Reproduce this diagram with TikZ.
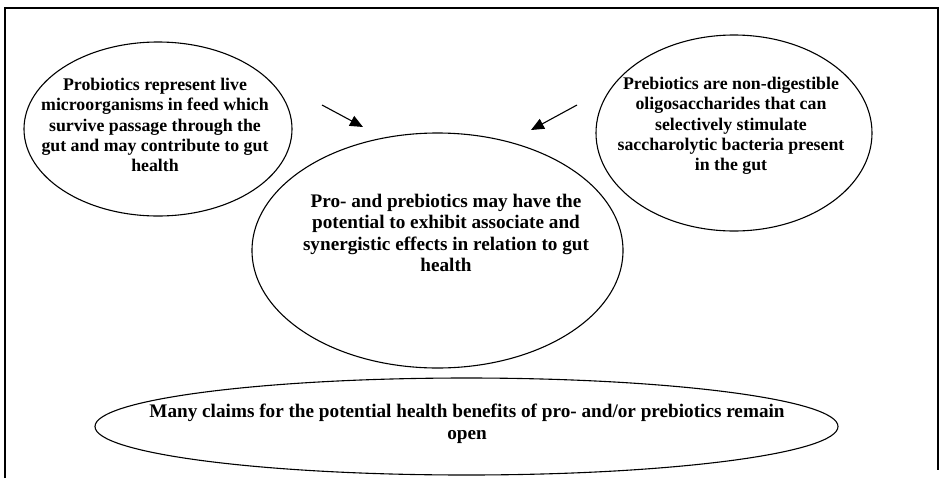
\documentclass[tikz,border=0pt]{standalone}
\usepackage{fontspec}
\setmainfont{Liberation Serif}
\usetikzlibrary{shapes.geometric,arrows.meta}
\begin{document}
\begin{tikzpicture}[x=1pt,y=-1pt,
  oval/.style={draw=black,line width=1.1pt,ellipse,inner sep=0pt},
  smalltext/.style={align=center,font=\bfseries\fontsize{17.8}{20.3}\selectfont,inner sep=0pt},
  bigtext/.style={align=center,font=\bfseries\fontsize{19.2}{21.5}\selectfont,inner sep=0pt},
  link/.style={line width=1.1pt,-{Triangle[length=13pt,width=11pt]}},
  borderline/.style={line width=1.4pt}]
\useasboundingbox (0,0) rectangle (942,485);
\coordinate (fbl) at (5,478);
\coordinate (ftl) at (5,8);
\coordinate (ftr) at (938,8);
\coordinate (fbr) at (938,470);
\draw[borderline] (fbl) -- (ftl) -- (ftr) -- (fbr);

\node[oval,minimum width=268pt,minimum height=174pt] (pro) at (158,129) {};
\node[smalltext] (protext) at (155,125) {Probiotics represent live\\ microorganisms in feed which\\ survive passage through the\\ gut and may contribute to gut\\ health};

\node[oval,minimum width=276pt,minimum height=196pt] (pre) at (734,133) {};
\node[smalltext] (pretext) at (731,126) {Prebiotics are non-digestible\\ oligosaccharides that can\\ selectively stimulate\\ saccharolytic bacteria present\\ in the gut};

\node[oval,minimum width=371pt,minimum height=235pt] (syn) at (437.5,250.5) {};
\node[bigtext] (syntext) at (446,233) {Pro- and prebiotics may have the\\ potential to exhibit associate and\\ synergistic effects in relation to gut\\ health};

\node[oval,minimum width=743pt,minimum height=97pt] (claims) at (466.5,426.5) {};
\node[bigtext] (claimstext) at (467,424) {Many claims for the potential health benefits of pro- and/or prebiotics remain\\ open};

\coordinate (a1s) at (322,105);
\coordinate (a1e) at (363,127);
\coordinate (a2s) at (577,105);
\coordinate (a2e) at (531,130);
\draw[link] (a1s) -- (a1e);
\draw[link] (a2s) -- (a2e);
\end{tikzpicture}
\end{document}
